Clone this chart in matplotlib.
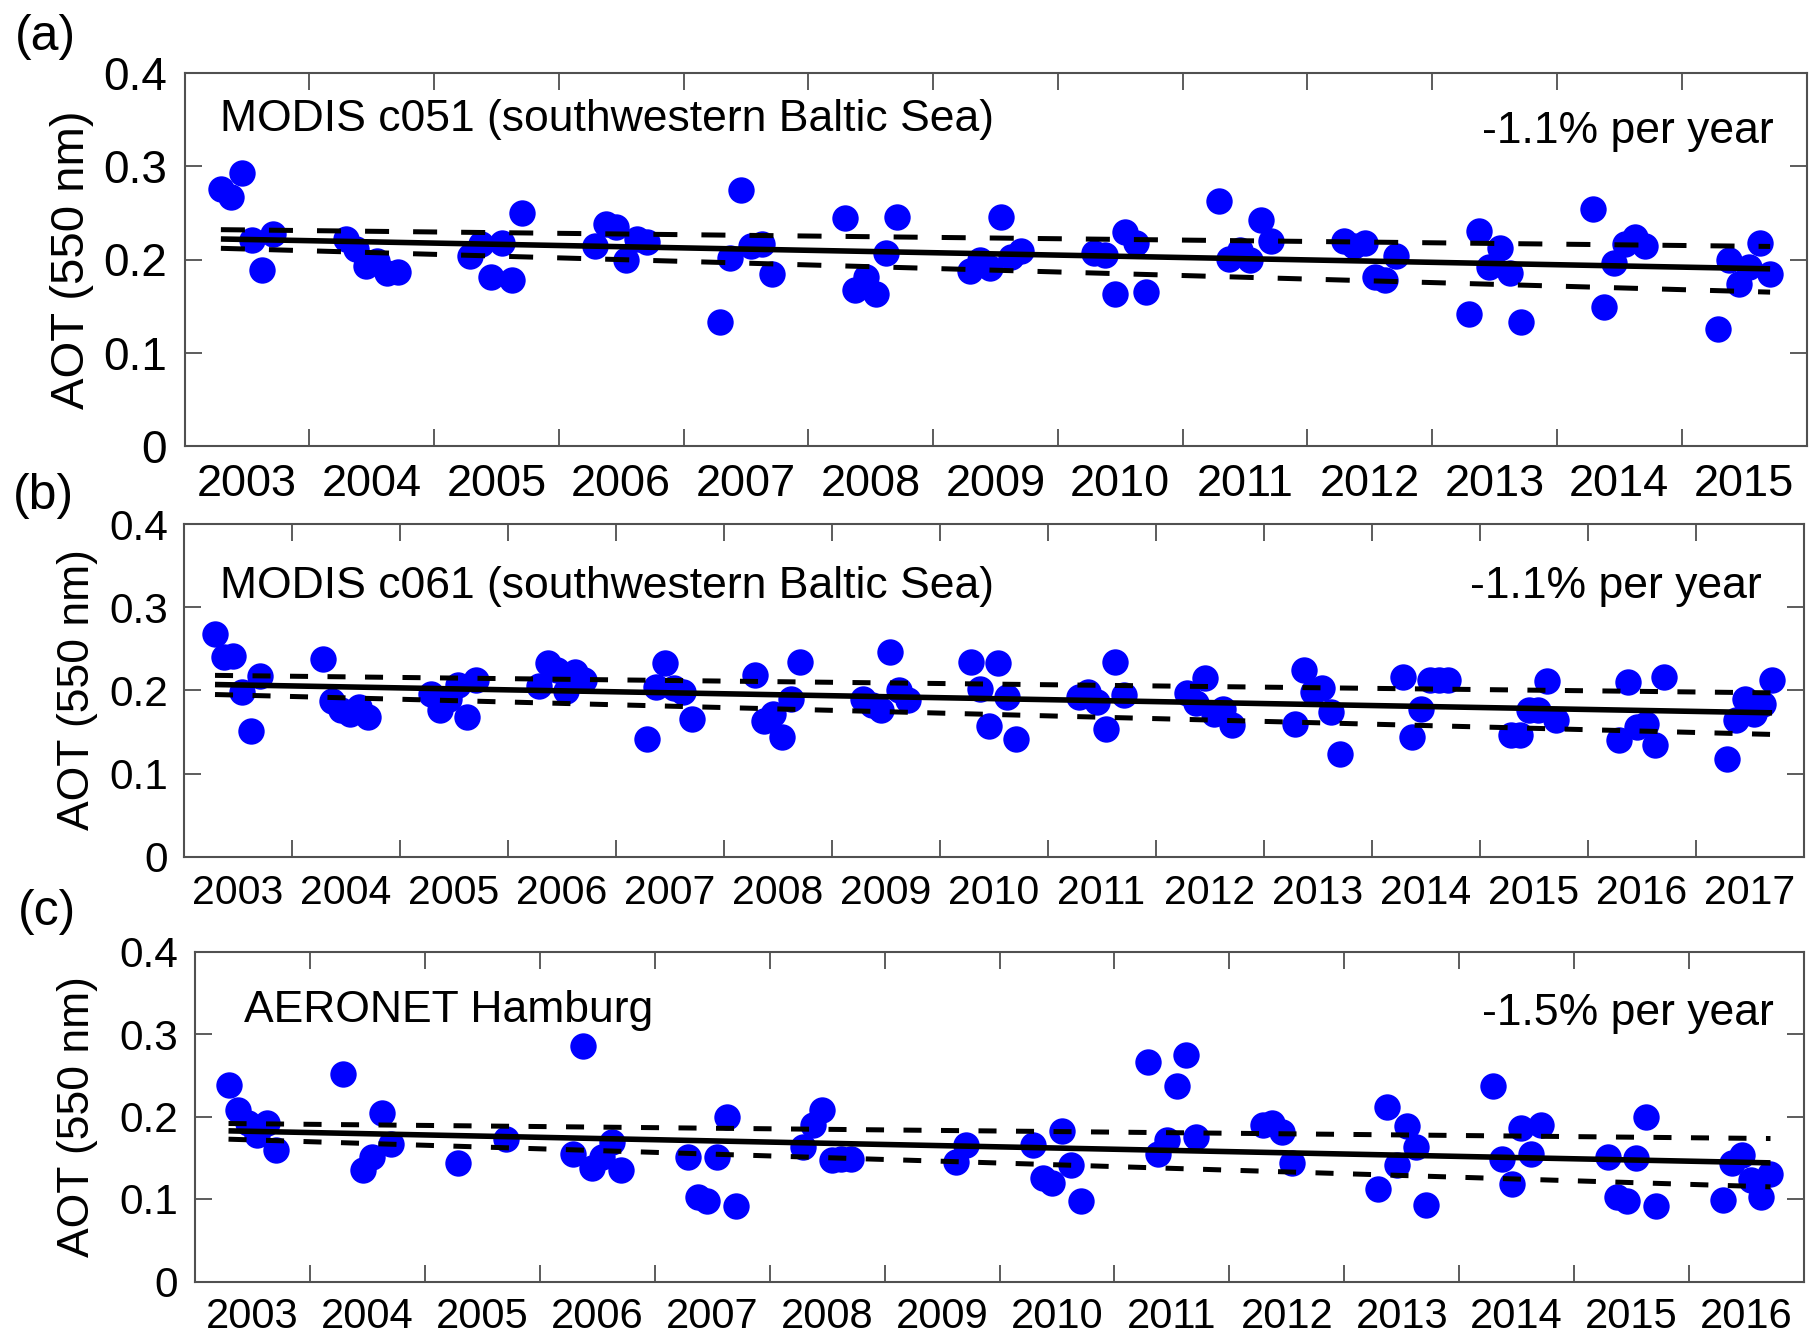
import numpy as np
import matplotlib
matplotlib.use("Agg")
import matplotlib.pyplot as plt

plt.rcParams['font.family'] = ['Liberation Sans', 'DejaVu Sans']
plt.rcParams['lines.scale_dashes'] = False

nan = np.nan
months = [4, 5, 6, 7, 8, 9]   # April .. September

# (a) MODIS c051, southwestern Baltic Sea, rows = years, cols = Apr..Sep
a_years = list(range(2003, 2016))
a_aot = [
    [0.276, 0.267, 0.293, 0.221, 0.189, 0.227],
    [0.222, 0.211, 0.193, 0.198, 0.185, 0.187],
    [0.204, 0.217, 0.181, 0.218, 0.178, 0.250],
    [0.214, 0.238, 0.235, 0.200, 0.222, 0.219],
    [0.133, 0.202, 0.274, 0.215, 0.217, 0.184],
    [0.244, 0.167, 0.181, 0.163, 0.207, 0.246],
    [0.188, 0.200, 0.191, 0.246, 0.203, 0.209],
    [0.207, 0.205, 0.163, 0.229, 0.218, 0.165],
    [0.263, 0.201, 0.210, 0.199, 0.242, 0.220],
    [0.220, 0.214, 0.218, 0.181, 0.178, 0.204],
    [0.142, 0.231, 0.192, 0.212, 0.185, 0.133],
    [0.254, 0.149, 0.196, 0.217, 0.224, 0.215],
    [0.125, 0.199, 0.174, 0.192, 0.218, 0.184],
]
a_trend = [0.222, 0.190]
a_upper = [0.232, 0.214]
a_lower = [0.212, 0.165]

# (b) MODIS c061, southwestern Baltic Sea
b_years = list(range(2003, 2018))
b_aot = [
    [0.268, 0.240, 0.241, 0.198, 0.151, 0.217],
    [0.238, 0.187, 0.176, 0.172, 0.180, 0.168],
    [0.196, 0.176, 0.190, 0.207, 0.168, 0.213],
    [0.205, 0.233, 0.225, 0.199, 0.222, 0.213],
    [0.142, 0.204, 0.233, 0.203, 0.198, 0.165],
    [0.218, 0.163, 0.172, 0.144, 0.189, 0.234],
    [0.190, 0.182, 0.176, 0.246, 0.200, 0.188],
    [0.234, 0.202, 0.157, 0.233, 0.192, 0.141],
    [0.192, 0.198, 0.186, 0.153, 0.234, 0.195],
    [0.197, 0.185, 0.215, 0.172, 0.178, 0.158],
    [0.159, 0.225, 0.198, 0.203, 0.174, 0.123],
    [0.216, 0.144, 0.178, 0.212, 0.212, 0.212],
    [0.146, 0.146, 0.176, 0.176, 0.211, 0.164],
    [0.140, 0.210, 0.156, 0.160, 0.134, 0.216],
    [0.118, 0.164, 0.190, 0.172, 0.184, 0.213],
]
b_trend = [0.207, 0.173]
b_upper = [0.218, 0.197]
b_lower = [0.195, 0.147]

# (c) AERONET Hamburg (missing months = nan)
c_years = list(range(2003, 2017))
c_aot = [
    [0.238, 0.208, 0.192, 0.177, 0.192, 0.160],
    [0.252, nan, 0.135, 0.151, 0.204, 0.167],
    [0.144, nan, nan, nan, nan, 0.173],
    [0.154, 0.286, 0.137, 0.151, 0.169, 0.135],
    [0.151, 0.103, 0.097, 0.151, 0.200, 0.091],
    [0.163, 0.190, 0.208, 0.147, 0.148, 0.149],
    [nan, nan, nan, nan, 0.145, 0.165],
    [0.165, 0.125, 0.120, 0.183, 0.141, 0.097],
    [0.266, 0.155, 0.171, 0.237, 0.275, 0.175],
    [0.190, 0.192, 0.181, 0.144, nan, nan],
    [0.112, 0.211, 0.141, 0.188, 0.163, 0.093],
    [0.237, 0.149, 0.118, 0.186, 0.154, 0.190],
    [0.151, 0.103, 0.097, 0.150, 0.200, 0.091],
    [0.099, 0.144, 0.153, 0.123, 0.103, 0.130],
]
c_trend = [0.1826, 0.1438]
c_upper = [0.1915, 0.1733]
c_lower = [0.1725, 0.1147]

yticks = [0, 0.1, 0.2, 0.3, 0.4]
ytick_labels = ['0', '0.1', '0.2', '0.3', '0.4']

W, H = 1820, 1341
fig = plt.figure(figsize=(W / 100, H / 100), dpi=100)


def add_ax(l, t, r, b):
    return fig.add_axes([l / W, 1 - b / H, (r - l) / W, (b - t) / H])


def draw_panel(ax, years, aot, trend, upper, lower, dash, xfs, yfs, xpad, ypad):
    x = np.array([[yr + (m - 0.5) / 12 for m in months] for yr in years]).ravel()
    v = np.array(aot, dtype=float).ravel()
    ok = ~np.isnan(v)
    x, v = x[ok], v[ok]
    ax.plot(x, v, 'o', color='#0000ff', ms=19, mec='none', zorder=2)
    xe = [x[0], x[-1]]
    ax.plot(xe, trend, color='k', lw=4.0, solid_capstyle='butt', zorder=3)
    for bound in (upper, lower):
        ax.plot(xe, bound, color='k', lw=3.6, ls=(0, dash),
                dash_capstyle='butt', zorder=3)

    ax.set_xlim(years[0], years[-1] + 1)
    ax.set_ylim(0, 0.4)
    ax.set_xticks(np.arange(years[0], years[-1] + 2))
    ax.set_xticklabels([])
    ax.set_xticks(np.array(years) + 0.5, minor=True)
    ax.set_xticklabels([str(yr) for yr in years], minor=True)
    ax.set_yticks(yticks)
    ax.set_yticklabels(ytick_labels)

    ax.tick_params(which='major', direction='in', length=12, width=1.1,
                   top=True, right=True, color='#303030')
    ax.tick_params(axis='x', which='minor', length=0, labelsize=xfs, pad=xpad)
    ax.tick_params(axis='y', which='major', labelsize=yfs, pad=ypad)
    for sp in ax.spines.values():
        sp.set_color('#505050')
        sp.set_linewidth(1.5)


ax_a = add_ax(184.5, 73, 1806.5, 446)
ax_b = add_ax(183.5, 524, 1803.6, 856.7)
ax_c = add_ax(195, 951.5, 1804, 1281.5)

draw_panel(ax_a, a_years, a_aot, a_trend, a_upper, a_lower, (17.3, 17.3), 32.5, 33, 13, 12.5)
draw_panel(ax_b, b_years, b_aot, b_trend, b_upper, b_lower, (13, 14), 29.5, 30.5, 12.5, 11)
draw_panel(ax_c, c_years, c_aot, c_trend, c_upper, c_lower, (13, 14), 30, 30.5, 11.5, 12)

note_fs = 32
ax_a.text(0.0219, 0.845, 'MODIS c051 (southwestern Baltic Sea)', transform=ax_a.transAxes,
          fontsize=note_fs, ha='left', va='baseline')
ax_a.text(0.980, 0.812, '-1.1% per year', transform=ax_a.transAxes,
          fontsize=note_fs, ha='right', va='baseline')
ax_b.text(0.0225, 0.777, 'MODIS c061 (southwestern Baltic Sea)', transform=ax_b.transAxes,
          fontsize=note_fs, ha='left', va='baseline')
ax_b.text(0.974, 0.778, '-1.1% per year', transform=ax_b.transAxes,
          fontsize=note_fs, ha='right', va='baseline')
ax_c.text(0.0305, 0.787, 'AERONET Hamburg', transform=ax_c.transAxes,
          fontsize=note_fs, ha='left', va='baseline')
ax_c.text(0.981, 0.777, '-1.5% per year', transform=ax_c.transAxes,
          fontsize=note_fs, ha='right', va='baseline')

# y labels and panel letters
for (px, py, fs) in [(72, 260, 34), (78, 690, 32), (78, 1117, 32)]:
    fig.text(px / W, 1 - py / H, 'AOT (550 nm)', rotation=90,
             ha='center', va='center', fontsize=fs)
for (px, py, lab) in [(45, 37, '(a)'), (43, 496, '(b)'), (47, 912, '(c)')]:
    fig.text(px / W, 1 - py / H, lab, ha='center', va='center', fontsize=36)

fig.savefig('out.png', dpi=100)
